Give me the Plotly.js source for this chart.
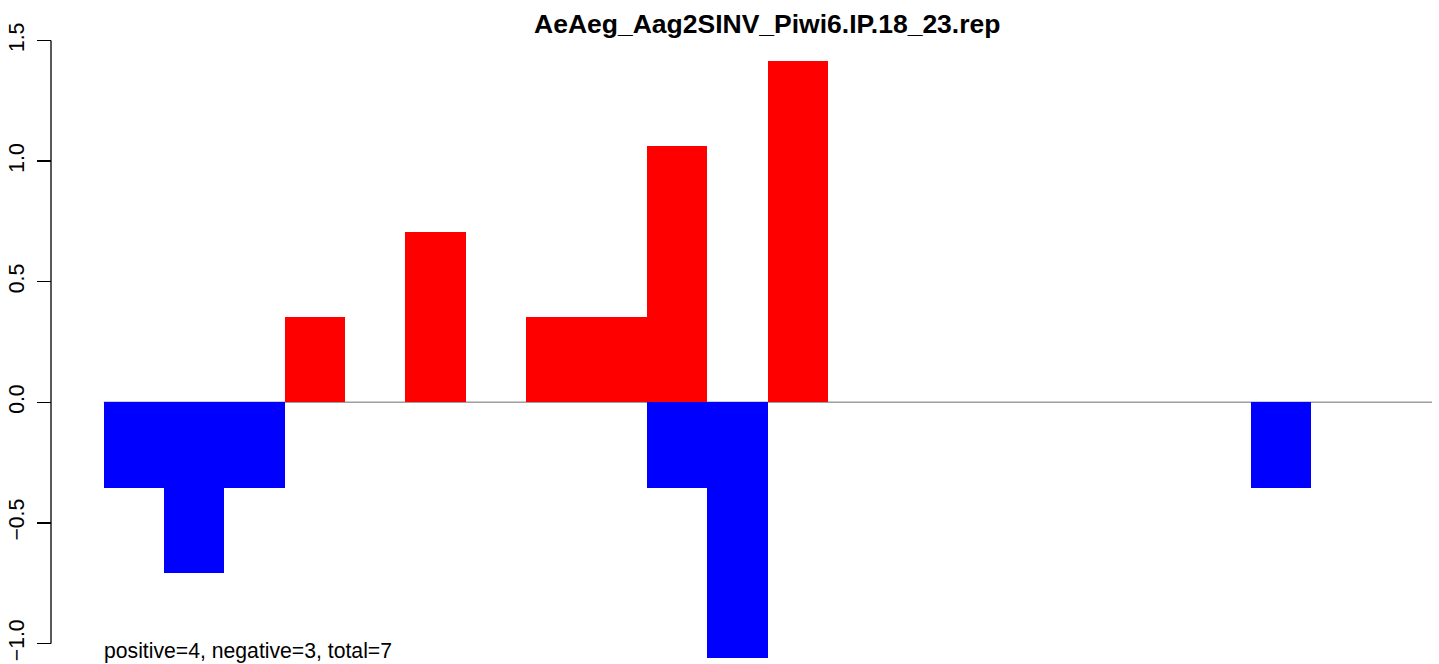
<!DOCTYPE html>
<html>
<head>
<meta charset="utf-8">
<script src="https://cdn.plot.ly/plotly-3.0.1.min.js"></script>
<style>
html,body{margin:0;padding:0;background:#fff;}
#chart{width:1439px;height:664px;}
</style>
</head>
<body>
<div id="chart"></div>
<script>
// bin positions (1..22)
var positions = [1,2,3,4,5,6,7,8,9,10,11,12,13,14,15,16,17,18,19,20,21,22];
// positive (sense) values, red
var positiveValues = [0,0,0,0.354,0,0.707,0,0.354,0.354,1.061,0,1.414,0,0,0,0,0,0,0,0,0,0];
// negative (antisense) values, blue
var negativeValues = [-0.354,-0.707,-0.354,0,0,0,0,0,0,-0.354,-1.061,0,0,0,0,0,0,0,0,-0.354,0,0];
var yTicks = [-1.0,-0.5,0.0,0.5,1.0,1.5];
var chartTitle = "AeAeg_Aag2SINV_Piwi6.IP.18_23.rep";
var summaryText = "positive=4, negative=3, total=7";

var xc = positions.map(function(p){return p-0.5;});
var FONT = "Liberation Sans, Arial, Helvetica, sans-serif";

var traces = [
  {type:'bar', x:xc, y:positiveValues, width:1, marker:{color:'#ff0000', line:{width:0}}, hoverinfo:'skip'},
  {type:'bar', x:xc, y:negativeValues, width:1, marker:{color:'#0000ff', line:{width:0}}, hoverinfo:'skip'}
];

var W=1439, H=664, L=51, R=7;
var plotW = W-L-R;
var zeroPx = 402.3, unit = 241.2;
var yTop = zeroPx/unit, yBot = -(H-zeroPx)/unit;

var layout = {
  width:W, height:H,
  margin:{l:L, r:R, t:0, b:0, pad:0},
  paper_bgcolor:'#fff', plot_bgcolor:'#fff',
  showlegend:false,
  barmode:'overlay',
  bargap:0,
  font:{family:FONT, size:21.2, color:'#000'},
  xaxis:{range:[0,22], domain:[(103.5-L)/plotW, 1], showgrid:false, zeroline:false, showline:false, showticklabels:false, ticks:'', fixedrange:true},
  yaxis:{range:[yBot,yTop], anchor:'free', position:0, showgrid:false, zeroline:false, showline:false,
         tickmode:'array', tickvals:yTicks, ticktext:yTicks.map(function(v){return (v<0?'\u2212':'')+Math.abs(v).toFixed(1);}),
         ticks:'outside', ticklen:14, tickwidth:1.3, tickcolor:'#000', tickangle:-90, ticklabelstandoff:5,
         tickfont:{family:FONT, size:21.2, color:'#000'}, fixedrange:true},
  shapes:[
    {type:'line', xref:'paper', yref:'y', x0:0, x1:0, y0:-1, y1:1.5, line:{color:'#000', width:1.3}},
    {type:'line', xref:'x', yref:'y', x0:0, x1:22, y0:0, y1:0, layer:'below', line:{color:'#9e9e9e', width:1.4}}
  ],
  annotations:[
    {text:'<b>'+chartTitle+'</b>', xref:'paper', yref:'paper', x:(767-L)/plotW, y:1-24/H, xanchor:'center', yanchor:'middle', showarrow:false, font:{family:FONT, size:26.5, color:'#000'}},
    {text:summaryText, xref:'paper', yref:'paper', x:(102-L)/plotW, y:1-650.5/H, xanchor:'left', yanchor:'middle', showarrow:false, font:{family:FONT, size:21.2, color:'#000'}}
  ]
};

Plotly.newPlot('chart', traces, layout, {displayModeBar:false, staticPlot:true});
</script>
</body>
</html>
